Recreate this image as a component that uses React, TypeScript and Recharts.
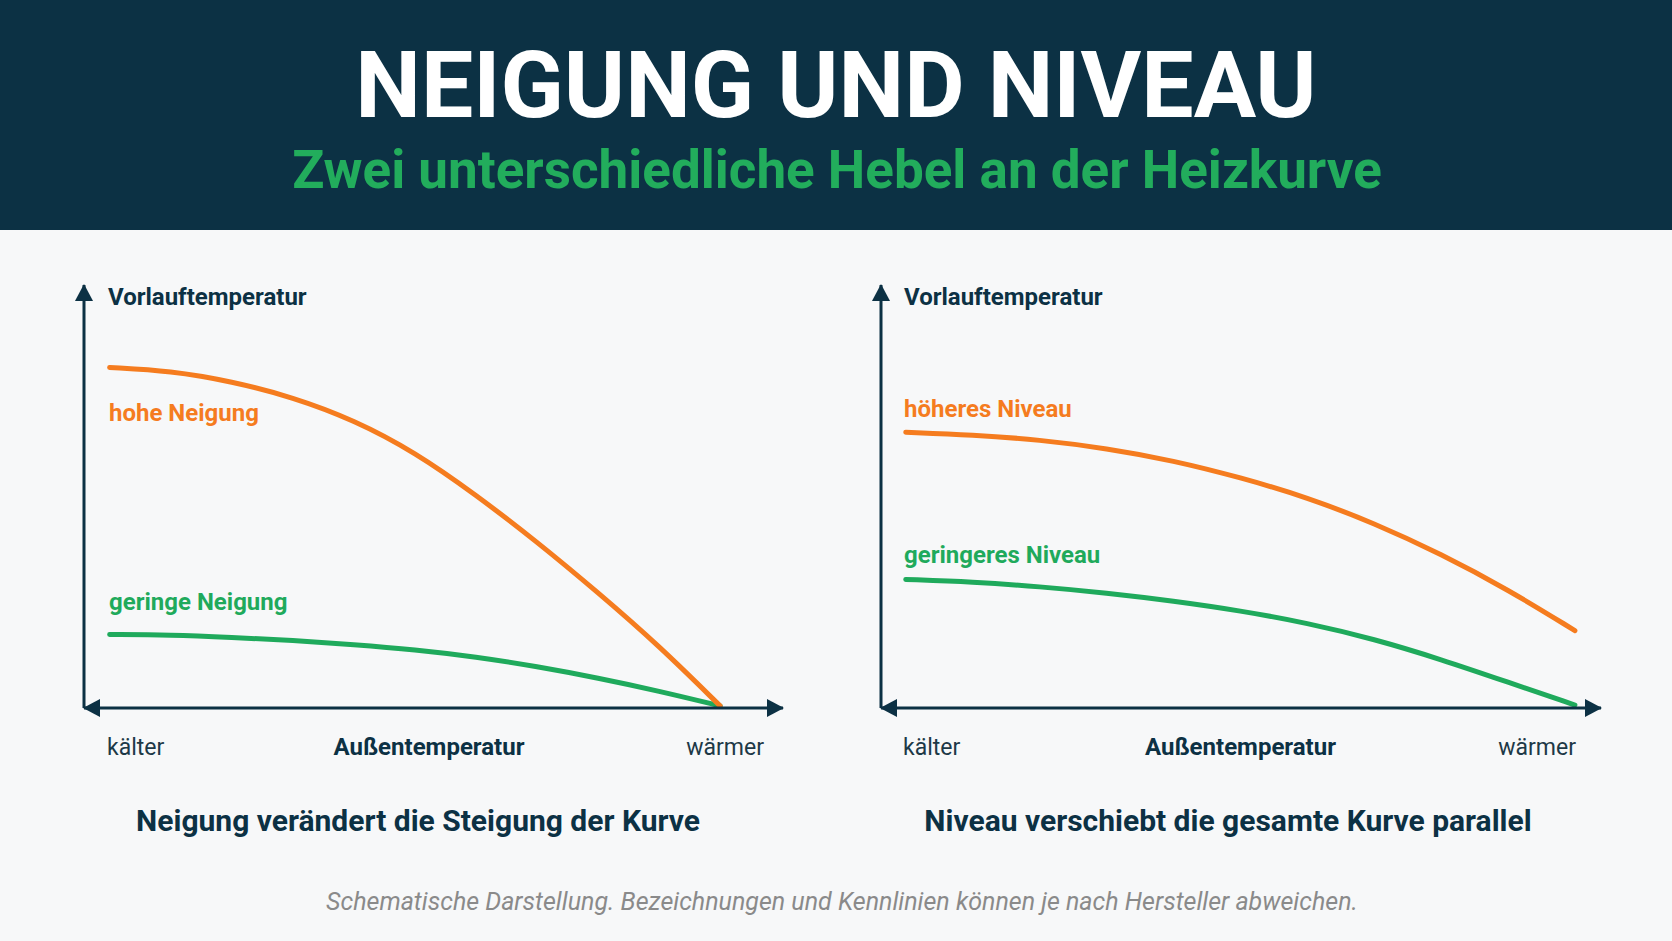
import React from 'react';
import { LineChart, Line, XAxis, YAxis } from 'recharts';

// Außentemperatur steps, kälter (0) -> wärmer (10)
const steps = [0, 1, 2, 3, 4, 5, 6, 7, 8, 9, 10];

// left panel: Neigung
const hoheNeigung = [80.5, 79.7, 77.2, 73.5, 68.1, 60.5, 50.4, 39.3, 27.3, 14.7, 0.5];
const geringeNeigung = [17.4, 17.3, 16.7, 16.0, 15.0, 13.8, 12.1, 9.8, 7.1, 4.0, 0.5];

// right panel: Niveau
const hoeheresNiveau = [65.2, 64.6, 63.4, 61.4, 58.5, 54.5, 49.8, 43.7, 36.4, 28.0, 18.3];
const geringeresNiveau = [30.4, 29.8, 28.7, 27.2, 25.3, 23.0, 20.1, 16.3, 11.5, 6.1, 0.7];

const NAVY = '#0c3144';
const ORANGE = '#f57c1f';
const GREEN = '#1faa5c';
const FONT = 'Roboto, "Noto Sans", sans-serif';

const toRows = (a: number[], b: number[]) => steps.map((x, i) => ({ x, high: a[i], low: b[i] }));

const axisStyle = (id: string, isX: boolean) => ({
  stroke: NAVY,
  strokeWidth: 3,
  markerStart: `url(#${id})`,
  markerEnd: isX ? `url(#${id})` : undefined,
});

function Panel({ id, left, margin, domain, rows }: any) {
  return (
    <div style={{ position: 'absolute', left, top: 260 }}>
      <LineChart width={760} height={470} data={rows} margin={margin}>
        <defs>
          <marker
            id={id}
            viewBox="0 0 17 18"
            markerWidth={17}
            markerHeight={18}
            refX={16}
            refY={9}
            markerUnits="userSpaceOnUse"
            orient="auto-start-reverse"
          >
            <path d="M0,0 L17,9 L0,18 Z" fill={NAVY} />
          </marker>
        </defs>
        <XAxis
          type="number"
          dataKey="x"
          domain={domain}
          allowDataOverflow
          height={1}
          tick={false}
          tickLine={false}
          axisLine={axisStyle(id, true)}
        />
        <YAxis
          type="number"
          domain={[0, 100]}
          allowDataOverflow
          width={1}
          tick={false}
          tickLine={false}
          axisLine={axisStyle(id, false)}
        />
        <Line type="basis" dataKey="low" stroke={GREEN} strokeWidth={5} strokeLinecap="round" dot={false} isAnimationActive={false} />
        <Line type="basis" dataKey="high" stroke={ORANGE} strokeWidth={5} strokeLinecap="round" dot={false} isAnimationActive={false} />
      </LineChart>
    </div>
  );
}

export default function App() {
  return (
    <div style={{ position: 'absolute', left: 0, top: 0, width: 1672, height: 941, background: '#f7f8f9', overflow: 'hidden', fontFamily: FONT }}>
      <div style={{ position: 'absolute', left: 0, top: 0, width: 1672, height: 230, background: NAVY }} />

      <Panel id="arrL" left={60} margin={{ top: 25, right: 37, bottom: 21, left: 23 }} domain={[-0.42, 11.03]} rows={toRows(hoheNeigung, geringeNeigung)} />
      <Panel id="arrR" left={860} margin={{ top: 25, right: 19, bottom: 21, left: 20 }} domain={[-0.37, 10.39]} rows={toRows(hoeheresNiveau, geringeresNiveau)} />

      <svg width={1672} height={941} style={{ position: 'absolute', left: 0, top: 0, pointerEvents: 'none' }} fontFamily={FONT}>
        <text x={836} y={117} textAnchor="middle" fontSize={93} fontWeight={700} fill="#ffffff">NEIGUNG UND NIVEAU</text>
        <text x={837} y={188} textAnchor="middle" fontSize={53} fontWeight={700} fill="#22ad5c">Zwei unterschiedliche Hebel an der Heizkurve</text>

        <text x={108} y={305} fontSize={24} fontWeight={700} fill={NAVY}>Vorlauftemperatur</text>
        <text x={904} y={305} fontSize={24} fontWeight={700} fill={NAVY}>Vorlauftemperatur</text>

        <text x={109} y={421} fontSize={24} fontWeight={700} fill={ORANGE}>hohe Neigung</text>
        <text x={109} y={610} fontSize={24} fontWeight={700} fill={GREEN}>geringe Neigung</text>
        <text x={904} y={417} fontSize={24} fontWeight={700} fill={ORANGE}>höheres Niveau</text>
        <text x={904} y={563} fontSize={24} fontWeight={700} fill={GREEN}>geringeres Niveau</text>

        <text x={107} y={755} fontSize={23} fill="#1d3947">kälter</text>
        <text x={429} y={755} textAnchor="middle" fontSize={24} fontWeight={700} fill={NAVY}>Außentemperatur</text>
        <text x={764} y={755} textAnchor="end" fontSize={23} fill="#1d3947">wärmer</text>
        <text x={903} y={755} fontSize={23} fill="#1d3947">kälter</text>
        <text x={1240.5} y={755} textAnchor="middle" fontSize={24} fontWeight={700} fill={NAVY}>Außentemperatur</text>
        <text x={1576} y={755} textAnchor="end" fontSize={23} fill="#1d3947">wärmer</text>

        <text x={418} y={831} textAnchor="middle" fontSize={30} fontWeight={700} fill={NAVY}>Neigung verändert die Steigung der Kurve</text>
        <text x={1228} y={831} textAnchor="middle" fontSize={30} fontWeight={700} fill={NAVY}>Niveau verschiebt die gesamte Kurve parallel</text>

        <text x={842} y={910} textAnchor="middle" fontSize={25} fontStyle="italic" fill="#8a8a8a">Schematische Darstellung. Bezeichnungen und Kennlinien können je nach Hersteller abweichen.</text>
      </svg>
    </div>
  );
}
